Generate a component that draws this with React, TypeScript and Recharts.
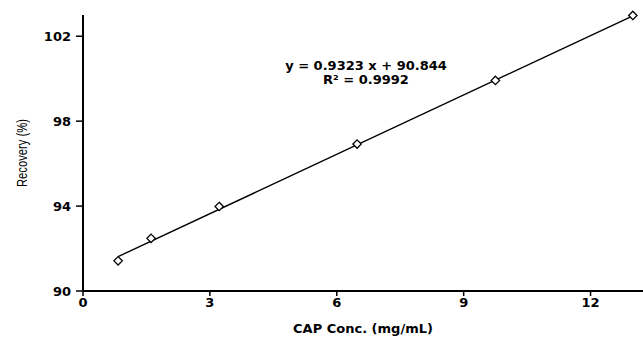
import {
  ComposedChart,
  Scatter,
  Line,
  XAxis,
  YAxis,
} from "recharts";

// measured points (CAP conc. vs recovery)
const concValues = [0.83, 1.61, 3.22, 6.48, 9.75, 13.0];
const recoveryValues = [91.42, 92.48, 93.98, 96.92, 99.92, 102.98];

// trend line end points
const fitX = [0.83, 13.0];
const fitY = [91.62, 102.96];

const xTicks = [0, 3, 6, 9, 12];
const yTicks = [90, 94, 98, 102];

const equationText = "y = 0.9323 x + 90.844";
const r2Text = "R² = 0.9992";

const points = concValues.map((x, i) => ({ x, y: recoveryValues[i] }));
const fitLine = fitX.map((x, i) => ({ x, y: fitY[i] }));

const FONT = "'DejaVu Sans', 'Liberation Sans', sans-serif";

const Diamond = (props: any) => {
  const { cx, cy } = props;
  if (cx == null || cy == null) return null;
  const r = 4.2;
  return (
    <path
      d={`M${cx},${cy - r}L${cx + r},${cy}L${cx},${cy + r}L${cx - r},${cy}Z`}
      fill="#fff"
      stroke="#000"
      strokeWidth={1.3}
    />
  );
};

export default function App() {
  const tickStyle = { fill: "#000", fontSize: 13, fontWeight: 700, fontFamily: FONT };

  return (
    <div style={{ position: "absolute", left: 0, top: 0, width: 643, height: 337, background: "#fff" }}>
      <ComposedChart width={643} height={337} margin={{ top: 15, right: 0, left: 0, bottom: 0 }}>
        <XAxis
          type="number"
          dataKey="x"
          domain={[0, 13.24]}
          ticks={xTicks}
          height={46}
          stroke="#000"
          strokeWidth={2}
          tickSize={5}
          tickMargin={2}
          tick={tickStyle}
          tickLine={{ stroke: "#000", strokeWidth: 1.5 }}
          label={{
            value: "CAP Conc. (mg/mL)",
            position: "insideBottom",
            offset: 4,
            style: { fill: "#000", fontSize: 13, fontWeight: 700, fontFamily: FONT },
          }}
        />
        <YAxis
          type="number"
          dataKey="y"
          domain={[90, 103]}
          ticks={yTicks}
          width={83}
          stroke="#000"
          strokeWidth={2}
          tickSize={7}
          tickMargin={5}
          tick={tickStyle}
          tickLine={{ stroke: "#000", strokeWidth: 1.5 }}
          label={{
            content: ({ viewBox }: any) => {
              const cx = viewBox.x + 22;
              const cy = viewBox.y + viewBox.height / 2;
              return (
                <text
                  x={cx}
                  y={cy}
                  transform={`rotate(-90 ${cx} ${cy})`}
                  textAnchor="middle"
                  dominantBaseline="central"
                  fill="#000"
                  fontSize={14}
                  textLength={68}
                  lengthAdjust="spacingAndGlyphs"
                  fontFamily="'Liberation Sans', Arial, sans-serif"
                >
                  Recovery (%)
                </text>
              );
            },
          }}
        />
        <Line
          data={fitLine}
          dataKey="y"
          type="linear"
          stroke="#000"
          strokeWidth={1.4}
          dot={false}
          activeDot={false}
          isAnimationActive={false}
        />
        <Scatter data={points} dataKey="y" shape={<Diamond />} isAnimationActive={false} />
      </ComposedChart>
      <div
        style={{
          position: "absolute",
          left: 266,
          top: 59,
          width: 200,
          textAlign: "center",
          fontFamily: FONT,
          fontWeight: 700,
          fontSize: 13,
          lineHeight: "14px",
          color: "#000",
        }}
      >
        <div>{equationText}</div>
        <div>{r2Text}</div>
      </div>
    </div>
  );
}
